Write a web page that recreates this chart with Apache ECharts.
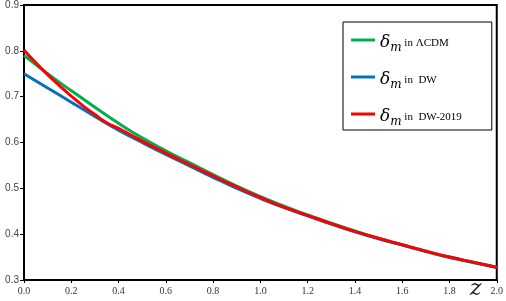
<!DOCTYPE html>
<html><head><meta charset="utf-8">
<script src="https://cdn.jsdelivr.net/npm/echarts@6/dist/echarts.min.js"></script>
<style>html,body{margin:0;padding:0;background:#fff}#c{width:506px;height:301px}</style>
</head><body><div id="c"></div>
<script>
const zGrid = [0,0.1,0.2,0.3,0.4,0.5,0.6,0.7,0.8,0.9,1.0,1.1,1.2,1.3,1.4,1.5,1.6,1.7,1.8,1.9,2.0];
const lcdm = [0.790,0.750,0.713,0.677,0.642,0.610,0.582,0.556,0.530,0.505,0.482,0.461,0.442,0.424,0.407,0.391,0.377,0.363,0.350,0.339,0.328];
const dw   = [0.750,0.719,0.688,0.657,0.627,0.600,0.574,0.549,0.524,0.500,0.478,0.458,0.440,0.422,0.405,0.390,0.376,0.362,0.349,0.338,0.327];
const redZ = [0,0.05,0.1,0.15,0.2,0.25,0.3,0.35,0.4,0.45,0.5,0.6,0.7,0.8,0.9,1.0,1.1,1.2,1.3,1.4,1.5,1.6,1.7,1.8,1.9,2.0];
const dw2019 = [0.802,0.774,0.748,0.724,0.701,0.680,0.661,0.643,0.631,0.617,0.603,0.577,0.552,0.527,0.503,0.480,0.459,0.441,0.423,0.406,0.391,0.377,0.363,0.350,0.339,0.328];
const yTicks = [0.3,0.4,0.5,0.6,0.7,0.8,0.9];
const names = ['δm in ΛCDM','δm in DW','δm in DW-2019'];
const suffix = [' in ΛCDM',' in  DW',' in  DW-2019'];

const chart = echarts.init(document.getElementById('c'), null, {renderer:'canvas'});
const pair = (xs, ys) => xs.map((x,i)=>[x, ys[i]]);
const lineStyle = c => ({width:3, color:c});
chart.setOption({
  animation:false,
  grid:{left:24, right:9, top:5, bottom:21, show:true, borderColor:'#000', borderWidth:2},
  xAxis:{type:'value', min:0, max:2, interval:0.2,
    axisLine:{lineStyle:{color:'#000', width:2}},
    axisTick:{show:true, length:3, lineStyle:{color:'#000'}},
    splitLine:{show:false},
    axisLabel:{formatter:v=>v.toFixed(1), color:'#333', fontFamily:'Liberation Serif', fontSize:10, margin:6}},
  yAxis:{type:'value', min:yTicks[0], max:yTicks[yTicks.length-1], interval:0.1,
    axisLine:{show:true, lineStyle:{color:'#000', width:2}},
    axisTick:{show:true, length:4, lineStyle:{color:'#000'}},
    splitLine:{show:false},
    axisLabel:{formatter:v=>v.toFixed(1), color:'#444', fontFamily:'Liberation Sans', fontSize:10, margin:5}},
  legend:{orient:'vertical', left:343, top:22, padding:[12,30,2,8], itemGap:17,
    borderColor:'#000', borderWidth:1, backgroundColor:'#fff',
    icon:'rect', itemWidth:24, itemHeight:3,
    data:names,
    formatter:n=>'{d|δ}{m|m}{t|'+suffix[names.indexOf(n)]+'}',
    textStyle:{rich:{
      d:{fontFamily:'DejaVu Serif', fontStyle:'italic', fontSize:17, color:'#000', lineHeight:22, verticalAlign:'bottom'},
      m:{fontFamily:'DejaVu Serif', fontStyle:'italic', fontSize:12, color:'#000', padding:[0,0,-3,0], verticalAlign:'bottom'},
      t:{fontFamily:'Liberation Serif', fontSize:11, color:'#000', verticalAlign:'bottom', padding:[0,0,2,0]}
    }}},
  graphic:[{type:'text', left:470, top:278, style:{text:'z', font:'italic 22px "DejaVu Serif"', fill:'#222'}}],
  series:[
    {name:names[0], type:'line', data:pair(zGrid,lcdm), smooth:true, symbol:'none', lineStyle:lineStyle('#00B050'), itemStyle:{color:'#00B050'}},
    {name:names[1], type:'line', data:pair(zGrid,dw), smooth:true, symbol:'none', lineStyle:lineStyle('#0070C0'), itemStyle:{color:'#0070C0'}},
    {name:names[2], type:'line', data:pair(redZ,dw2019), smooth:true, symbol:'none', lineStyle:lineStyle('#FF0000'), itemStyle:{color:'#FF0000'}}
  ]
});
</script></body></html>
